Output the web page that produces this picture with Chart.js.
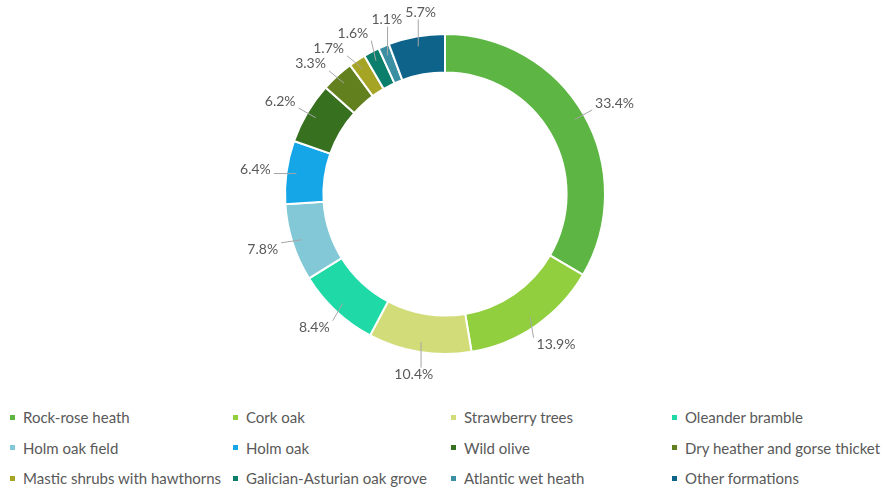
<!DOCTYPE html>
<html>
<head>
<meta charset="utf-8">
<script src="https://cdn.jsdelivr.net/npm/chart.js@4/dist/chart.umd.min.js"></script>
<style>
  body { margin: 0; background: #fff; font-family: Lato, "Liberation Sans", sans-serif; }
  #wrap { position: relative; width: 885px; height: 488px; }
  #box { position: absolute; left: 0; top: 0; width: 885px; height: 388px; }
  #legend {
    position: absolute; left: 10px; top: 402px;
    display: grid; grid-template-columns: 223px 218px 221px 211px;
    grid-auto-rows: 30.5px; font-size: 15px; color: #595959;
  }
  #legend div { display: flex; align-items: center; white-space: nowrap; }
  #legend span.m { width: 5px; height: 5px; margin-right: 8px; display: inline-block; flex: none; }
</style>
</head>
<body>
<div id="wrap">
  <div id="box"><canvas id="chart"></canvas></div>
  <div id="legend"></div>
</div>
<script>
const categories = [
  "Rock-rose heath", "Cork oak", "Strawberry trees", "Oleander bramble",
  "Holm oak field", "Holm oak", "Wild olive", "Dry heather and gorse thicket",
  "Mastic shrubs with hawthorns", "Galician-Asturian oak grove", "Atlantic wet heath", "Other formations"
];
const shares = [33.4, 13.9, 10.4, 8.4, 7.8, 6.4, 6.2, 3.3, 1.7, 1.6, 1.1, 5.7];
const colors = [
  "#5db543", "#92cf3e", "#d2dc78", "#1fd9a6",
  "#82c8d6", "#14a6e6", "#37701f", "#63801f",
  "#a5a424", "#0c7f6c", "#3a8fa3", "#0d6389"
];

// legend
const legend = document.getElementById("legend");
categories.forEach((c, i) => {
  const d = document.createElement("div");
  d.innerHTML = `<span class="m" style="background:${colors[i]}"></span>${c}`;
  legend.appendChild(d);
});

// outside labels with leader lines, small ones pushed apart along the ring
const outLabels = {
  id: "outLabels",
  afterDatasetsDraw(chart) {
    const ctx = chart.ctx;
    const arcs = chart.getDatasetMeta(0).data;
    ctx.save();
    ctx.font = "14px Lato, 'Liberation Sans', sans-serif";
    ctx.textAlign = "center";
    ctx.textBaseline = "middle";
    const h = 14;
    const labels = arcs.map((a, i) => {
      const txt = shares[i].toFixed(1) + "%";
      return { a, txt, w: ctx.measureText(txt).width, ang: (a.startAngle + a.endAngle) / 2 };
    });
    const boxOf = (l) => {
      const r = l.a.outerRadius + 12;
      const c = Math.cos(l.ang), s = Math.sin(l.ang);
      return {
        x: l.a.x + c * r + c * (l.w / 2 + 4),
        y: l.a.y + s * r + s * (h / 2 + 4),
        w: l.w
      };
    };
    const hit = (p, q) => Math.abs(p.x - q.x) < (p.w + q.w) / 2 + 3 && Math.abs(p.y - q.y) < h + 1;
    for (let k = 0; k < 400; k++) {
      let moved = false;
      for (let i = 0; i < labels.length - 1; i++) {
        const p = labels[i], q = labels[i + 1];
        if (hit(boxOf(p), boxOf(q))) {
          p.ang -= 0.004; q.ang += 0.004; moved = true;
        }
      }
      if (!moved) break;
    }
    labels.forEach(l => {
      const a = l.a;
      const box = boxOf(l);
      const mid = (a.startAngle + a.endAngle) / 2;
      const sx = a.x + Math.cos(mid) * (a.outerRadius - 10);
      const sy = a.y + Math.sin(mid) * (a.outerRadius - 10);
      const ex = Math.min(Math.max(sx, box.x - l.w / 2 - 3), box.x + l.w / 2 + 3);
      const ey = Math.min(Math.max(sy, box.y - h / 2), box.y + h / 2);
      ctx.strokeStyle = "#a6a6a6";
      ctx.lineWidth = 1;
      ctx.beginPath();
      ctx.moveTo(sx, sy);
      ctx.lineTo(ex, ey);
      ctx.stroke();
      ctx.fillStyle = "#595959";
      ctx.fillText(l.txt, box.x, box.y);
    });
    ctx.restore();
  }
};

new Chart(document.getElementById("chart"), {
  type: "doughnut",
  data: {
    labels: categories,
    datasets: [{
      data: shares,
      backgroundColor: colors,
      borderColor: "#ffffff",
      borderWidth: 2
    }]
  },
  options: {
    responsive: true,
    maintainAspectRatio: false,
    animation: false,
    cutout: "76%",
    layout: { padding: { top: 33, bottom: 33, left: 5, right: 0 } },
    plugins: {
      legend: { display: false },
      tooltip: { enabled: false }
    }
  },
  plugins: [outLabels]
});
</script>
</body>
</html>
